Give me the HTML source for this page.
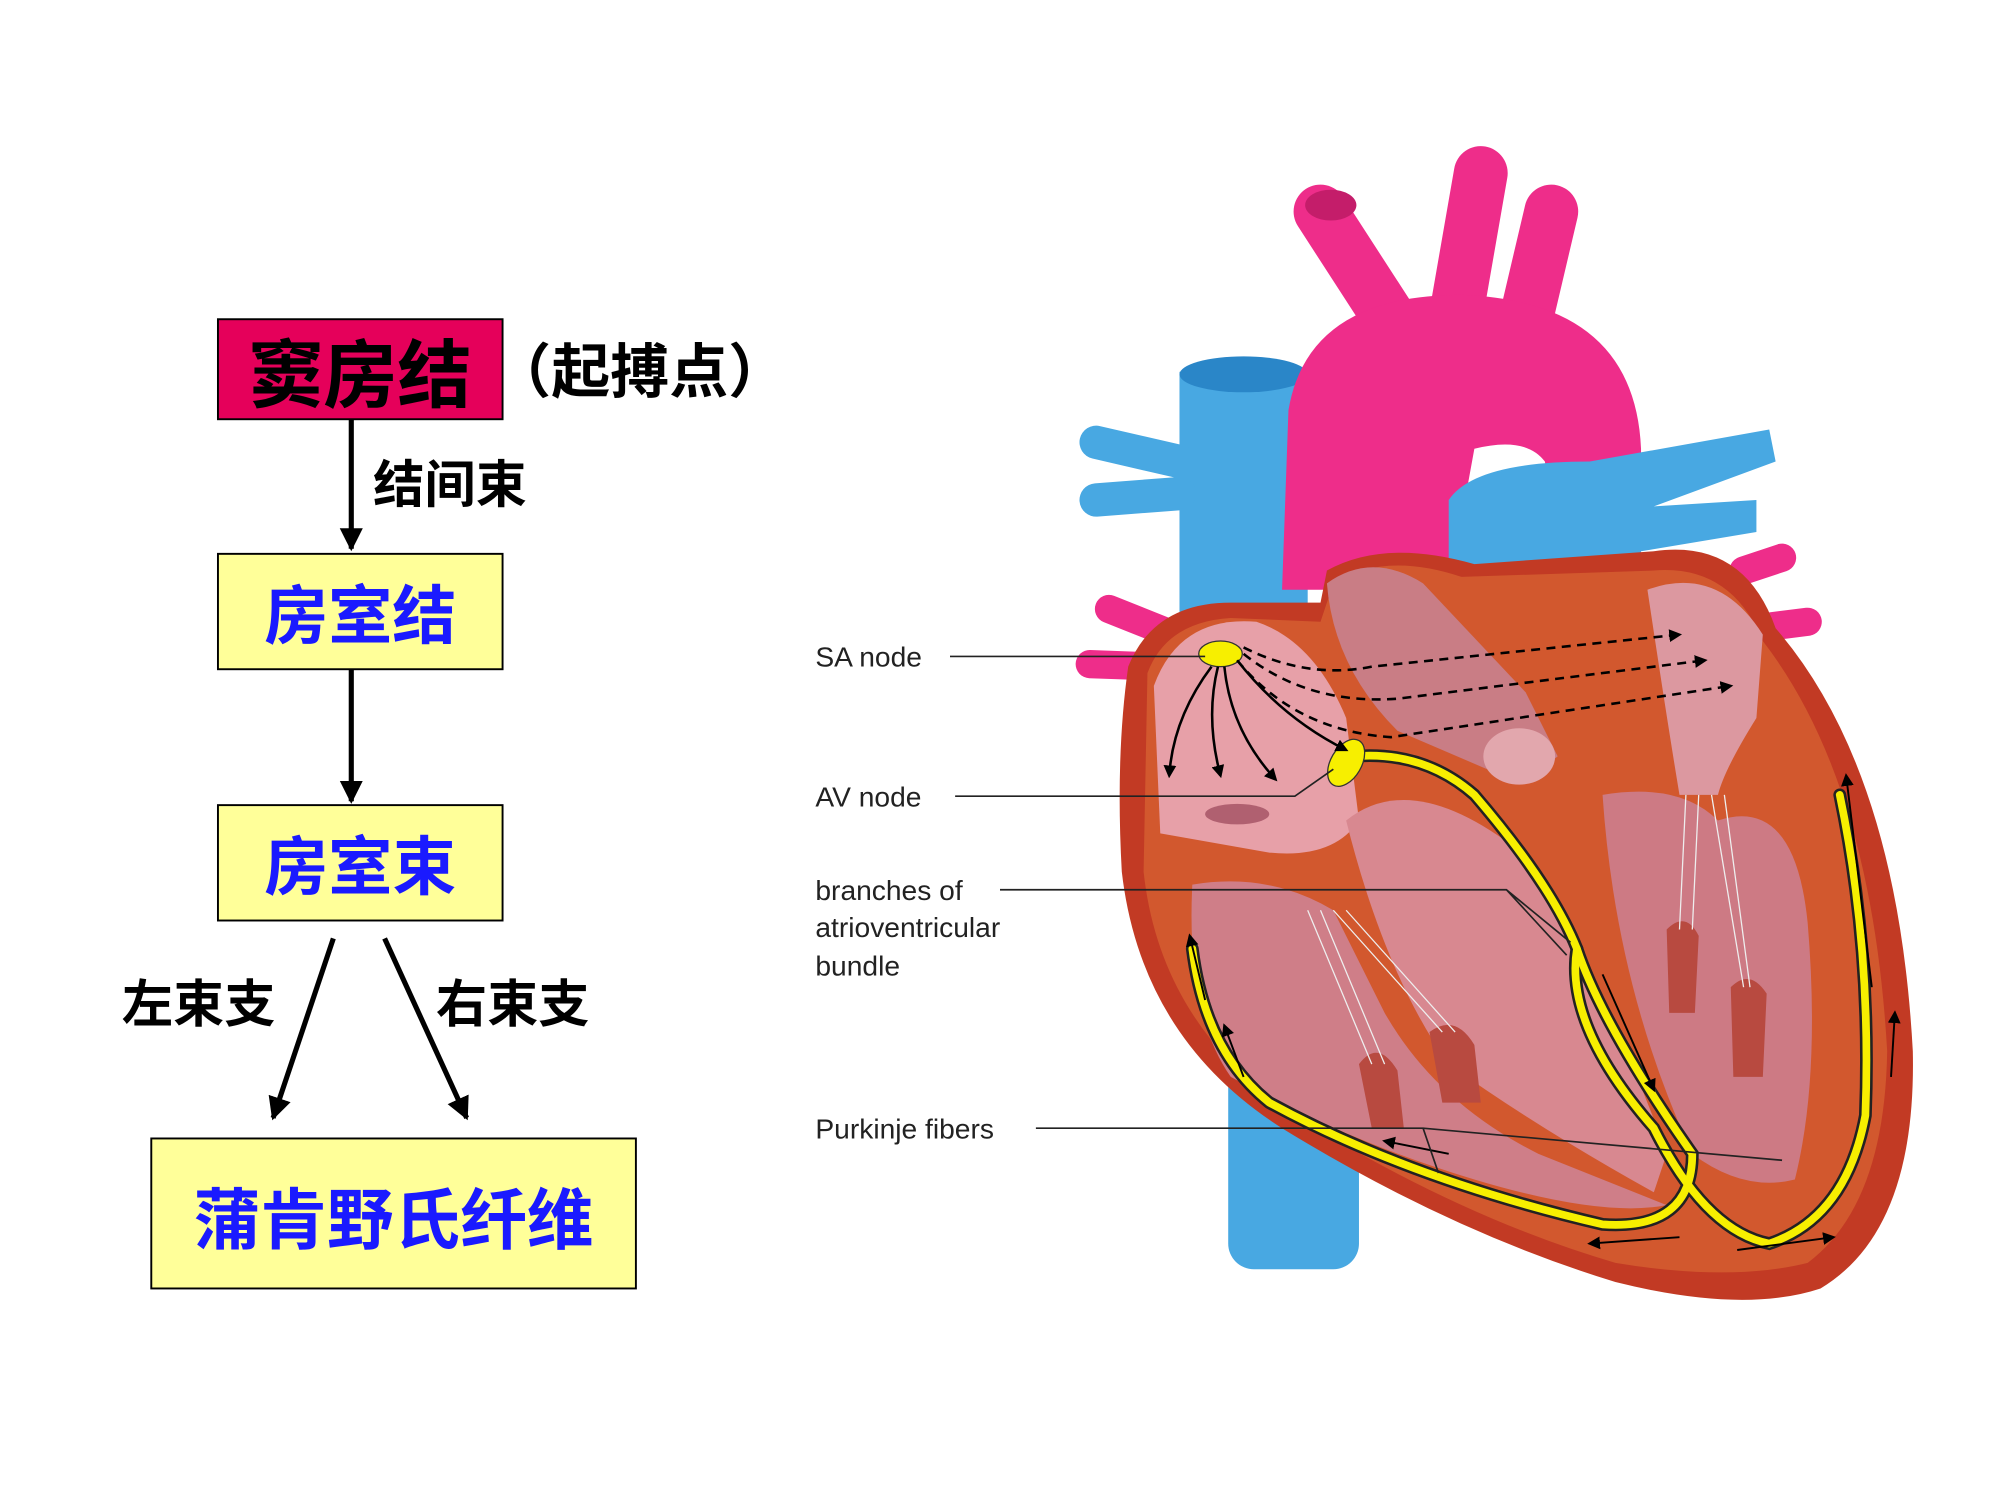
<!DOCTYPE html>
<html><head><meta charset="utf-8"><style>
html,body{margin:0;padding:0;background:#fff;}
svg{display:block}
</style></head><body>
<svg width="2000" height="1500" viewBox="0 0 1560 1170" preserveAspectRatio="none" xmlns="http://www.w3.org/2000/svg">
<defs>
<marker id="ah" markerWidth="10" markerHeight="10" refX="8" refY="5" orient="auto" markerUnits="userSpaceOnUse"><path d="M0,0 L10,5 L0,10 Z" fill="#000"/></marker>
<marker id="bh" markerWidth="18" markerHeight="18" refX="16" refY="9" orient="auto" markerUnits="userSpaceOnUse"><path d="M0,0 L18,9 L0,18 Z" fill="#000"/></marker>
</defs>
<g font-family="'Liberation Sans','Noto Sans CJK SC',sans-serif" font-weight="bold">
<rect x="170" y="249" width="222" height="78" fill="#e5005a" stroke="#000" stroke-width="1.5"/>
<text x="281" y="313" font-size="58" text-anchor="middle" fill="#000">窦房结</text>
<text x="384" y="306" font-size="46" fill="#000">（起搏点）</text>
<line x1="274" y1="327" x2="274" y2="428" stroke="#000" stroke-width="4" marker-end="url(#bh)"/>
<text x="291" y="392" font-size="40" fill="#000">结间束</text>
<rect x="170" y="432" width="222" height="90" fill="#ffff99" stroke="#000" stroke-width="1.5"/>
<text x="281" y="498" font-size="50" text-anchor="middle" fill="#1a1aff">房室结</text>
<line x1="274" y1="522" x2="274" y2="625" stroke="#000" stroke-width="4" marker-end="url(#bh)"/>
<rect x="170" y="628" width="222" height="90" fill="#ffff99" stroke="#000" stroke-width="1.5"/>
<text x="281" y="694" font-size="50" text-anchor="middle" fill="#1a1aff">房室束</text>
<line x1="260" y1="732" x2="213" y2="872" stroke="#000" stroke-width="4" marker-end="url(#bh)"/>
<line x1="300" y1="732" x2="364" y2="872" stroke="#000" stroke-width="4" marker-end="url(#bh)"/>
<text x="95" y="797" font-size="40" fill="#000" font-weight="bold">左束支</text>
<text x="340" y="797" font-size="40" fill="#000" font-weight="bold">右束支</text>
<rect x="118" y="888" width="378" height="117" fill="#ffff99" stroke="#000" stroke-width="1.5"/>
<text x="307" y="970" font-size="52" text-anchor="middle" fill="#1a1aff">蒲肯野氏纤维</text>
</g>
<g>
<path d="M1030,165 L1085,250 M1155,135 L1135,250 M1210,165 L1190,250" stroke="#ee2d8a" stroke-width="42" stroke-linecap="round" fill="none"/>
<ellipse cx="1038" cy="160" rx="20" ry="12" fill="#c41d6a"/>
<rect x="958" y="820" width="102" height="170" rx="20" fill="#48a8e2"/>
<rect x="920" y="290" width="100" height="240" fill="#48a8e2"/>
<ellipse cx="970" cy="292" rx="50" ry="14" fill="#2a86c8"/>
<path d="M920,360 L855,345 M920,385 L855,390" stroke="#48a8e2" stroke-width="26" stroke-linecap="round"/>
<path d="M1000,460 L1005,320 Q1020,230 1140,230 Q1275,235 1280,350 L1280,440 L1220,440 L1205,360 Q1190,340 1150,350 L1130,460 Z" fill="#ee2d8a"/>
<path d="M1130,460 L1130,390 Q1150,360 1240,360 L1380,335 L1385,360 L1290,395 L1370,390 L1370,415 L1280,430 L1270,470 Z" fill="#48a8e2"/>
<path d="M865,475 L915,495 M850,518 L905,520 M1360,445 L1390,435 M1370,490 L1410,485" stroke="#ee2d8a" stroke-width="22" stroke-linecap="round"/>
<path d="M880,520 Q900,470 960,470 L1030,470 L1035,445 Q1080,420 1150,440 L1290,430 Q1360,420 1385,490 Q1480,600 1492,820 Q1495,960 1420,1005 Q1360,1025 1260,1000 Q1130,960 1000,880 Q890,810 875,680 Q870,590 880,520 Z" fill="#c23a24"/>
<path d="M895,525 Q910,485 960,482 L1030,485 L1040,455 Q1080,430 1140,450 L1290,445 Q1350,440 1375,500 Q1460,610 1472,820 Q1470,940 1410,985 Q1350,1000 1260,985 Q1140,950 1010,870 Q905,800 892,680 Z" fill="#d2582e"/>
<path d="M900,535 Q920,480 980,485 Q1025,500 1050,560 L1060,640 Q1040,670 990,665 L905,650 Z" fill="#e7a0a8"/>
<ellipse cx="965" cy="635" rx="25" ry="8" fill="#b06070"/>
<path d="M1035,455 Q1070,430 1110,455 L1190,540 L1215,590 Q1190,610 1160,600 L1090,570 Q1040,520 1035,455 Z" fill="#c97d85"/>
<ellipse cx="1185" cy="590" rx="28" ry="22" fill="#e2a7ad"/>
<path d="M1285,460 Q1340,440 1375,495 L1370,560 Q1345,600 1340,620 L1310,620 Q1300,560 1285,460 Z" fill="#dc98a0"/>
<path d="M930,690 Q990,680 1040,710 L1080,790 Q1120,860 1200,900 L1300,940 Q1250,950 1150,920 Q1050,890 960,840 Q925,790 930,690 Z" fill="#cf7e88"/>
<path d="M1050,640 Q1100,600 1180,660 Q1250,760 1300,900 L1290,930 Q1200,880 1130,830 Q1080,760 1050,640 Z" fill="#d88890"/>
<path d="M1250,620 Q1310,610 1340,640 Q1400,620 1410,720 Q1420,840 1400,920 Q1360,930 1320,900 Q1260,770 1250,620 Z" fill="#cd7a84"/>
<path d="M1060,830 Q1075,810 1090,835 L1095,880 L1070,880 Z M1115,805 Q1135,790 1150,815 L1155,860 L1125,860 Z M1300,725 Q1315,710 1325,730 L1322,790 L1302,790 Z M1350,770 Q1365,755 1378,775 L1375,840 L1352,840 Z" fill="#b84a40"/>
<g stroke="#eee" stroke-width="1"><path d="M1020,710 L1070,830 M1030,710 L1080,830 M1040,710 L1125,805 M1050,710 L1135,805 M1315,620 L1310,725 M1325,620 L1320,725 M1335,620 L1360,770 M1345,620 L1365,770"/></g>
<g fill="none" stroke="#222" stroke-width="10" stroke-linecap="round">
<path d="M1055,590 Q1110,585 1150,620 Q1210,690 1230,740 Q1250,800 1320,900 Q1320,960 1250,955 Q1100,920 990,860 Q940,820 930,740"/>
<path d="M1230,740 Q1220,800 1290,880 Q1330,960 1380,970 Q1440,950 1455,870 Q1460,740 1435,620"/>
</g>
<g fill="none" stroke="#f7ef00" stroke-width="6" stroke-linecap="round">
<path d="M1055,590 Q1110,585 1150,620 Q1210,690 1230,740 Q1250,800 1320,900 Q1320,960 1250,955 Q1100,920 990,860 Q940,820 930,740"/>
<path d="M1230,740 Q1220,800 1290,880 Q1330,960 1380,970 Q1440,950 1455,870 Q1460,740 1435,620"/>
</g>
<ellipse cx="952" cy="510" rx="17" ry="10" fill="#f7ef00" stroke="#333" stroke-width="1"/>
<ellipse cx="1050" cy="595" rx="12" ry="20" transform="rotate(30 1050 595)" fill="#f7ef00" stroke="#333" stroke-width="1"/>
<g fill="none" stroke="#000" stroke-width="2" marker-end="url(#ah)">
<path d="M945,520 Q915,560 912,605"/><path d="M950,520 Q940,560 952,605"/><path d="M955,520 Q960,570 995,608"/>
<path d="M965,515 Q1000,560 1050,585"/>
</g>
<g fill="none" stroke="#000" stroke-width="2" stroke-dasharray="7,5" marker-end="url(#ah)">
<path d="M970,505 Q1020,530 1070,520 L1310,495"/>
<path d="M970,510 Q1020,550 1090,545 L1330,515"/>
<path d="M965,515 Q1010,570 1085,575 L1350,535"/>
</g>
<g stroke="#000" stroke-width="1.5" marker-end="url(#ah)" fill="none">
<path d="M1460,770 L1440,605"/><path d="M1475,840 L1478,790"/><path d="M940,780 L928,730"/><path d="M970,840 L955,800"/>
<path d="M1130,900 L1080,890"/><path d="M1310,965 L1240,970"/><path d="M1355,975 L1430,965"/><path d="M1250,760 L1290,850"/>
</g>
</g>
<g font-family="'Liberation Sans',sans-serif" font-size="22" fill="#222">
<text x="636" y="520">SA node</text>
<text x="636" y="629">AV node</text>
<text x="636" y="702">branches of</text>
<text x="636" y="731">atrioventricular</text>
<text x="636" y="761">bundle</text>
<text x="636" y="888">Purkinje fibers</text>
</g>
<g stroke="#222" stroke-width="1.3" fill="none">
<path d="M741,512 L940,512"/>
<path d="M745,621 L1010,621 L1040,600"/>
<path d="M780,694 L1175,694 L1225,735 M1175,694 L1222,745"/>
<path d="M808,880 L1110,880 L1390,905 M1110,880 L1122,915"/>
</g>
</svg>
</body></html>
